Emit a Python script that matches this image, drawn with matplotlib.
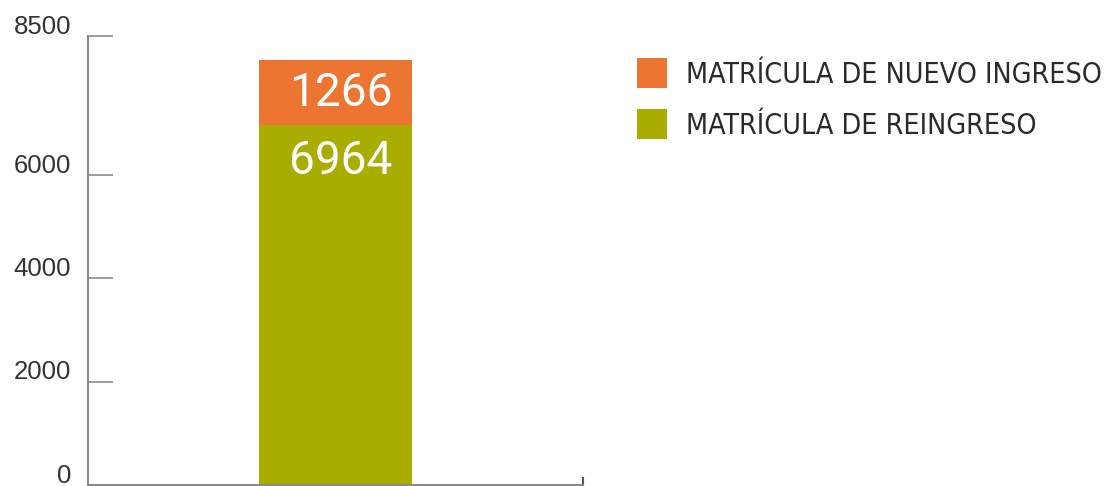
import matplotlib
matplotlib.use("Agg")
import matplotlib.pyplot as plt
from matplotlib.transforms import ScaledTranslation
from matplotlib import font_manager

# data
series = ["MATRÍCULA DE NUEVO INGRESO", "MATRÍCULA DE REINGRESO"]
reingreso = [6964]
nuevo_ingreso = [1266]
ytick_values = [0, 2000, 4000, 6000]
top_label = "8500"

orange = "#ED7532"
green = "#A8AD00"
axis_grey = "#8a8a8a"

fig = plt.figure(figsize=(11.07, 4.86), dpi=100)
ax = fig.add_axes([88 / 1107, 1 / 486, 495 / 1107, 449 / 486])

x = [0]
b_green = ax.bar(x, reingreso, width=0.31, color=green, label=series[1])
b_orange = ax.bar(x, nuevo_ingreso, width=0.31, bottom=reingreso, color=orange, label=series[0])

ymax = 8695
ax.set_xlim(-0.5, 0.5)
ax.set_ylim(0, ymax)

# bar values in white
num_font = dict(family=["Roboto", "DejaVu Sans"], fontweight="normal", color="white", fontsize=33)
for xi, r, n in zip(x, reingreso, nuevo_ingreso):
    ax.text(xi + 0.01, r + n / 2, f"{n}", ha="center", va="center", **num_font)
    ax.annotate(f"{r}", xy=(xi + 0.01, r), xytext=(0, -14), textcoords="offset pixels",
                ha="center", va="top", **num_font)

# axes styling
for side in ["top", "right"]:
    ax.spines[side].set_visible(False)
for side in ["left", "bottom"]:
    ax.spines[side].set_color(axis_grey)
    ax.spines[side].set_linewidth(1.5)

ax.set_yticks(ytick_values + [ymax])
ax.set_yticklabels([str(v) for v in ytick_values] + [top_label])
ax.tick_params(axis="y", direction="in", length=18, width=1.2, color=axis_grey,
               pad=12, labelsize=18.5, labelcolor="#333333")
for lab in ax.get_yticklabels():
    lab.set_family(["Liberation Sans", "DejaVu Sans"])
    lab.set_transform(lab.get_transform() + ScaledTranslation(0, 12 / 100, fig.dpi_scale_trans))

ax.set_xticks([0.5])
ax.set_xticklabels([])
ax.tick_params(axis="x", direction="in", length=6, width=1.5, color="#555555")

leg_prop = font_manager.FontProperties(family="DejaVu Sans", stretch="condensed", size=20.5)
leg = fig.legend(handles=[b_orange, b_green], labels=series,
                 loc="upper left", bbox_to_anchor=(637 / 1107, 1 - 58 / 486),
                 frameon=False, handlelength=1.05, handleheight=1.25,
                 handletextpad=0.68, labelspacing=0.72, borderaxespad=0,
                 borderpad=0, prop=leg_prop)
for t in leg.get_texts():
    t.set_color("#2a2a2a")

fig.savefig("out.png", dpi=100)
